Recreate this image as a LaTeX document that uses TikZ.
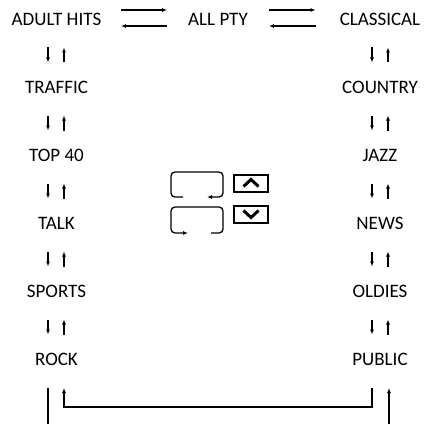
\documentclass[tikz,border=0pt]{standalone}
\usepackage{fontspec}
\setmainfont{Carlito}
\usetikzlibrary{calc,arrows.meta}
\begin{document}
\begin{tikzpicture}[x=1pt,y=1pt,
  lbl/.style={font=\fontsize{19}{19}\selectfont, inner sep=0pt, text height=12.2pt, text depth=0pt, anchor=center},
  ln/.style={line width=1.3pt},
  arr/.style={line width=1.3pt, -{Latex[length=5pt,width=4pt]}},
  btn/.style={draw, line width=2pt, minimum width=34pt, minimum height=17pt, inner sep=0pt},
  chev/.style={line width=3pt, miter limit=10}
]
\useasboundingbox (0,0) rectangle (428,424);
% left column
\node[lbl] (adult) at (56.5,405) {ADULT HITS};
\node[lbl] (traffic) at (56.5,337) {TRAFFIC};
\node[lbl] (top) at (56.5,269) {TOP 40};
\node[lbl] (talk) at (56.5,201) {TALK};
\node[lbl] (sports) at (56.5,133) {SPORTS};
\node[lbl] (rock) at (56.5,65) {ROCK};
% centre
\node[lbl] (allpty) at (218,405) {ALL PTY};
% right column
\node[lbl] (classical) at (380,405) {CLASSICAL};
\node[lbl] (country) at (380,337) {COUNTRY};
\node[lbl] (jazz) at (380,269) {JAZZ};
\node[lbl] (news) at (380,201) {NEWS};
\node[lbl] (oldies) at (380,133) {OLDIES};
\node[lbl] (public) at (380,65) {PUBLIC};

% vertical arrow pairs
\foreach \a/\b in {adult/traffic,traffic/top,top/talk,talk/sports,sports/rock}{
  \draw[arr] ($(\a)!.5!(\b)+(-8.5,5.5)$) -- ++(0,-15);
  \draw[arr] ($(\a)!.5!(\b)+(7.5,-9.5)$) -- ++(0,15);
}
\foreach \a/\b in {classical/country,country/jazz,jazz/news,news/oldies,oldies/public}{
  \draw[arr] ($(\a)!.5!(\b)+(-8,5.5)$) -- ++(0,-15);
  \draw[arr] ($(\a)!.5!(\b)+(8,-9.5)$) -- ++(0,15);
}

% horizontal arrow pairs
\draw[arr] ($(adult.east)+(19.5,9)$) -- ($(allpty.west)+(-21,9)$);
\draw[arr] ($(allpty.west)+(-21,-7)$) -- ($(adult.east)+(19.5,-7)$);
\draw[arr] ($(allpty.east)+(21,9)$) -- ($(classical.west)+(-24,9)$);
\draw[arr] ($(classical.west)+(-24,-7)$) -- ($(allpty.east)+(21,-7)$);

% middle loops
\draw[arr, rounded corners=4pt] (183,227) -- (171,227) -- (171,252) -- (223,252) -- (223,227) -- (207,227);
\draw[arr, rounded corners=4pt] (211,191) -- (223,191) -- (223,217) -- (171,217) -- (171,191) -- (188,191);

% buttons
\node[btn] (upbtn) at (251,241) {};
\node[btn] (dnbtn) at (251,210) {};
\draw[chev] ($(upbtn)+(-7.5,-3.5)$) -- ($(upbtn)+(0,3.5)$) -- ($(upbtn)+(7.5,-3.5)$);
\draw[chev] ($(dnbtn)+(-7.5,3.5)$) -- ($(dnbtn)+(0,-3.5)$) -- ($(dnbtn)+(7.5,3.5)$);

% bottom wrap-around
\draw[ln] ($(rock)+(-8.5,-29)$) -- ++(0,-36);
\draw[arr] ($(public)+(-8,-29)$) -- ++(0,-19) -| ($(rock)+(7.5,-29)$);
\draw[arr] ($(public)+(9,-65)$) -- ($(public)+(9,-29)$);
\end{tikzpicture}
\end{document}
